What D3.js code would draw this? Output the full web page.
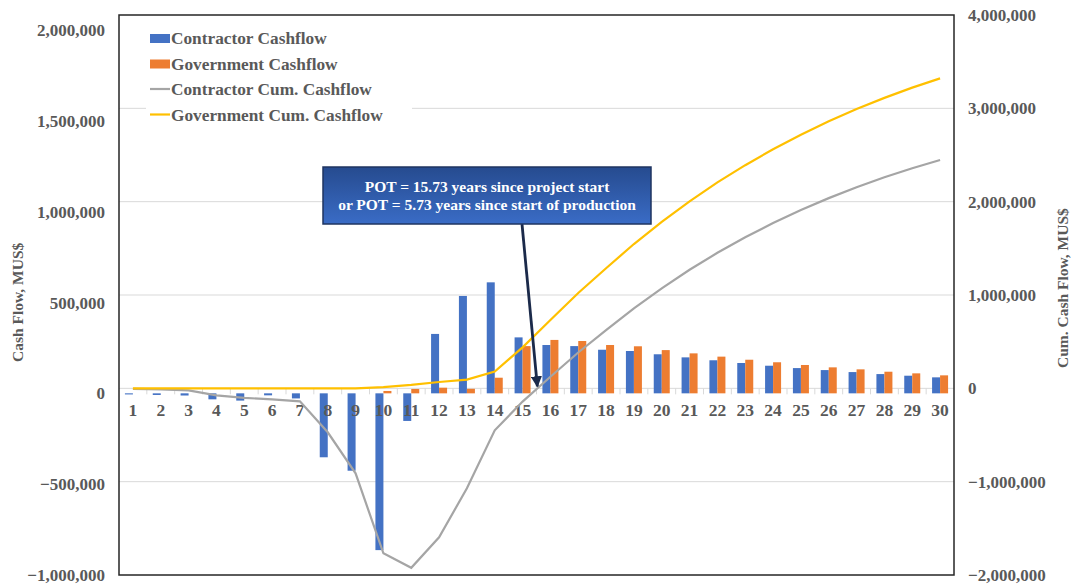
<!DOCTYPE html>
<html>
<head>
<meta charset="utf-8">
<script src="https://cdnjs.cloudflare.com/ajax/libs/d3/7.8.5/d3.min.js"></script>
<style>
  html, body { margin: 0; padding: 0; background: #fff; }
  svg { display: block; }
  text { font-family: "Liberation Serif", "Times New Roman", serif; font-weight: bold; }
</style>
</head>
<body>
<svg id="chart" width="1072" height="586"></svg>
<script>
// Project years
const years = d3.range(1, 31);

// Annual cash flows (left axis)
const contractorCash = [-6000, -9000, -12000, -33000, -40000, -11000, -28000, -352000, -426000, -863000,
  -152000, 327000, 536000, 611000, 308000, 266000, 260000, 240000, 233000, 215000,
  198000, 182000, 167000, 152000, 139000, 128000, 117000, 106000, 97000, 88000];
const governmentCash = [0, 0, 0, 0, 0, 0, 0, 0, 0, 13000,
  24000, 31000, 25000, 86000, 260000, 294000, 288000, 266000, 259000, 238000,
  220000, 202000, 185000, 171000, 156000, 143000, 132000, 119000, 110000, 99000];

// Cumulative cash flows (right axis)
const contractorCum = [-5000, -11000, -21000, -75000, -102000, -118000, -139000, -471000, -911000, -1768000,
  -1923000, -1596000, -1071000, -450000, -142000, 124000, 384000, 624000, 857000, 1072000,
  1270000, 1452000, 1619000, 1771000, 1910000, 2038000, 2155000, 2261000, 2358000, 2446000];
const governmentCum = [0, 0, 0, 0, 0, 0, 0, 0, 0, 13000,
  37000, 68000, 93000, 179000, 439000, 733000, 1021000, 1287000, 1546000, 1784000,
  2004000, 2206000, 2391000, 2562000, 2718000, 2861000, 2993000, 3112000, 3222000, 3321000];

// Axis ticks
const leftTicks = [-1000000, -500000, 0, 500000, 1000000, 1500000, 2000000];
const rightTicks = [-2000000, -1000000, 0, 1000000, 2000000, 3000000, 4000000];

const seriesNames = ["Contractor Cashflow", "Government Cashflow", "Contractor Cum. Cashflow", "Government Cum. Cashflow"];
const colors = { contractor: "#4472C4", government: "#ED7D31", contractorCum: "#A5A5A5", governmentCum: "#FFC000" };

const potLines = ["POT = 15.73 years since project start", "or POT = 5.73 years since start of production"];
const potYear = 15.53; // where the contractor cumulative curve crosses zero on the category axis

const svg = d3.select("#chart");
const plot = { left: 119, right: 954, top: 15, bottom: 575 };
const textColor = "#595959";

const x = d3.scaleBand().domain(years).range([plot.left, plot.right]).paddingInner(0).paddingOuter(0);
const groupW = 16;
const x1 = d3.scaleBand().domain(["c", "g"]).range([0, groupW]);
const yL = d3.scaleLinear().domain([-1000000, 2000000]).range([plot.bottom, 30]);
const yR = d3.scaleLinear().domain([-2000000, 4000000]).range([plot.bottom, plot.top]);
const xc = d => x(d) + x.bandwidth() / 2;
const xCont = v => plot.left + (v - 0.5) * x.bandwidth();

// Gridlines (right axis major units)
svg.append("g").selectAll("line").data(rightTicks.filter(t => t > -2000000 && t < 4000000)).join("line")
  .attr("x1", plot.left).attr("x2", plot.right)
  .attr("y1", d => yR(d)).attr("y2", d => yR(d))
  .attr("stroke", "#d9d9d9").attr("stroke-width", 1);

// Category tick marks
svg.append("g").selectAll("line").data(d3.range(1, 30)).join("line")
  .attr("x1", d => plot.left + d * x.bandwidth()).attr("x2", d => plot.left + d * x.bandwidth())
  .attr("y1", yR(0)).attr("y2", yL(0) + 1)
  .attr("stroke", "#d9d9d9").attr("stroke-width", 1);

// Bars
const bars = svg.append("g");
bars.selectAll("rect.c").data(years).join("rect").attr("class", "c")
  .attr("x", d => x(d) + (x.bandwidth() - groupW) / 2 + x1("c"))
  .attr("width", x1.bandwidth())
  .attr("y", (d, i) => Math.min(yL(0), yL(contractorCash[i])))
  .attr("height", (d, i) => Math.abs(yL(contractorCash[i]) - yL(0)))
  .attr("fill", colors.contractor);
bars.selectAll("rect.g").data(years).join("rect").attr("class", "g")
  .attr("x", d => x(d) + (x.bandwidth() - groupW) / 2 + x1("g"))
  .attr("width", x1.bandwidth())
  .attr("y", (d, i) => Math.min(yL(0), yL(governmentCash[i])))
  .attr("height", (d, i) => Math.abs(yL(governmentCash[i]) - yL(0)))
  .attr("fill", colors.government);

// Category labels
svg.append("g").selectAll("text").data(years).join("text")
  .attr("x", d => xc(d)).attr("y", 416)
  .attr("text-anchor", "middle").attr("font-size", 17.5).attr("fill", textColor)
  .text(d => d);

// Cumulative lines
const line = d3.line().x((d, i) => xc(years[i])).y(d => yR(d));
svg.append("path").datum(contractorCum).attr("d", line)
  .attr("fill", "none").attr("stroke", colors.contractorCum).attr("stroke-width", 2.2);
svg.append("path").datum(governmentCum).attr("d", line)
  .attr("fill", "none").attr("stroke", colors.governmentCum).attr("stroke-width", 2.2);

// Plot frame
svg.append("rect").attr("x", plot.left).attr("y", plot.top)
  .attr("width", plot.right - plot.left).attr("height", plot.bottom - plot.top)
  .attr("fill", "none").attr("stroke", "#262626").attr("stroke-width", 1.5);

// Left axis
svg.append("g").selectAll("text").data(leftTicks).join("text")
  .attr("x", 105).attr("y", d => yL(d) + 6)
  .attr("text-anchor", "end").attr("font-size", 17).attr("fill", textColor)
  .text(d => d3.format(",")(d));

// Right axis
svg.append("g").selectAll("text").data(rightTicks).join("text")
  .attr("x", 968).attr("y", d => yR(d) + 6)
  .attr("text-anchor", "start").attr("font-size", 17).attr("fill", textColor)
  .text(d => d3.format(",")(d));

// Axis titles
svg.append("text").attr("transform", "translate(23,362) rotate(-90)")
  .attr("text-anchor", "start").attr("font-size", 15.5).attr("fill", textColor)
  .text("Cash Flow, MUS$");
svg.append("text").attr("transform", "translate(1068,368) rotate(-90)")
  .attr("text-anchor", "start").attr("font-size", 15.5).attr("fill", textColor)
  .text("Cum. Cash Flow, MUS$");

// Legend
const legend = svg.append("g").attr("transform", "translate(146,25)");
legend.append("rect").attr("x", 0).attr("y", 0).attr("width", 266).attr("height", 102).attr("fill", "#fff");
const legendKinds = ["rect", "rect", "line", "line"];
const legendColors = [colors.contractor, colors.government, colors.contractorCum, colors.governmentCum];
seriesNames.forEach((name, i) => {
  const gy = 13 + i * 25.5;
  if (legendKinds[i] === "rect") {
    legend.append("rect").attr("x", 4).attr("y", gy - 4).attr("width", 20).attr("height", 9).attr("fill", legendColors[i]);
  } else {
    legend.append("line").attr("x1", 4).attr("x2", 24).attr("y1", gy).attr("y2", gy)
      .attr("stroke", legendColors[i]).attr("stroke-width", 2.2);
  }
  legend.append("text").attr("x", 25).attr("y", gy + 6)
    .attr("font-size", 17.3).attr("fill", textColor).text(name);
});

// Annotation box with gradient fill
const defs = svg.append("defs");
const grad = defs.append("linearGradient").attr("id", "potFill").attr("x1", 0).attr("y1", 0).attr("x2", 0).attr("y2", 1);
grad.append("stop").attr("offset", "0%").attr("stop-color", "#264b8f");
grad.append("stop").attr("offset", "100%").attr("stop-color", "#3a6cc6");
const marker = defs.append("marker").attr("id", "arrowHead")
  .attr("viewBox", "0 0 10 10").attr("refX", 9).attr("refY", 5)
  .attr("markerWidth", 4).attr("markerHeight", 4).attr("orient", "auto")
  .attr("markerUnits", "strokeWidth");
marker.append("path").attr("d", "M0,0 L10,5 L0,10 z").attr("fill", "#1b2a4a");

svg.append("line")
  .attr("x1", 522).attr("y1", 224)
  .attr("x2", xCont(potYear)).attr("y2", yR(0) - 2)
  .attr("stroke", "#1b2a4a").attr("stroke-width", 2.8)
  .attr("marker-end", "url(#arrowHead)");

svg.append("rect").attr("x", 323).attr("y", 167).attr("width", 328).attr("height", 57)
  .attr("fill", "url(#potFill)").attr("stroke", "#1f3460").attr("stroke-width", 1.5);
svg.append("g").selectAll("text").data(potLines).join("text")
  .attr("x", 487).attr("y", (d, i) => 192 + i * 18)
  .attr("text-anchor", "middle").attr("font-size", 15.5).attr("fill", "#fff")
  .text(d => d);
</script>
</body>
</html>
